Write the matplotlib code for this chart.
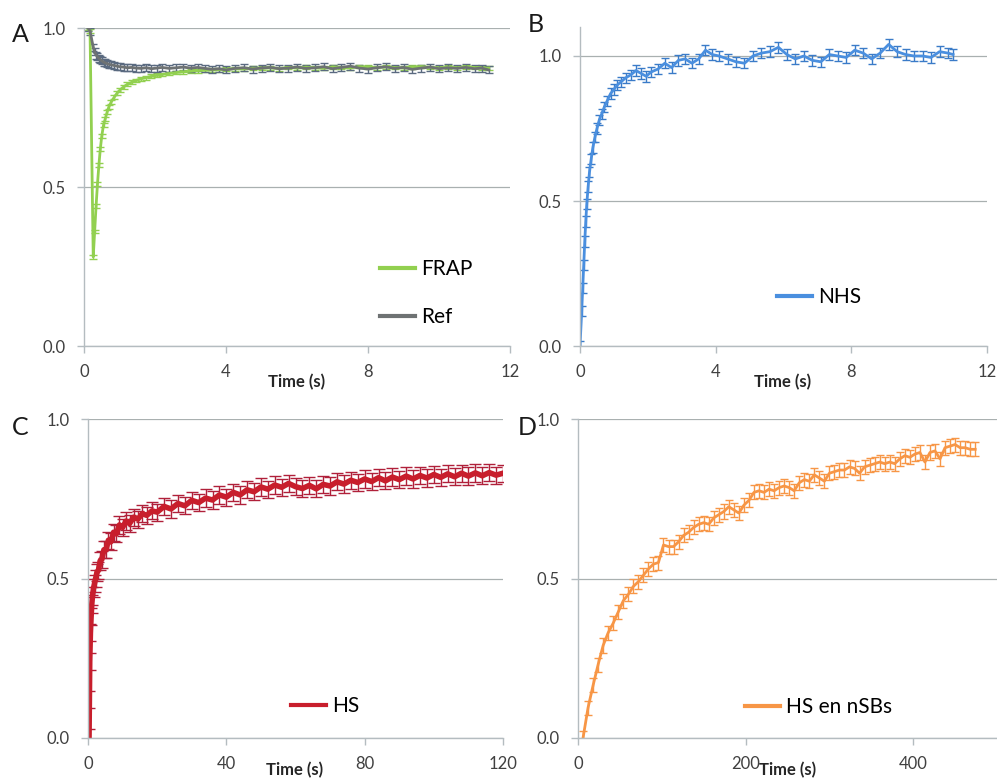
import matplotlib
matplotlib.use("Agg")
import matplotlib.pyplot as plt
from matplotlib.lines import Line2D

plt.rcParams['font.family'] = ['Lato', 'DejaVu Sans']

# ---- panel A: FRAP and reference curves (time in s)
time_a = [0.12, 0.17, 0.26, 0.30, 0.34, 0.38, 0.42, 0.46, 0.50, 0.55,
          0.60, 0.65, 0.70, 0.77, 0.85, 0.93, 1.02, 1.12, 1.22, 1.34,
          1.46, 1.60, 1.75, 1.90, 2.05, 2.20, 2.40, 2.60, 2.80, 3.00,
          3.20, 3.40, 3.60, 3.80, 4.00, 4.25, 4.50, 4.75, 5.00, 5.25,
          5.50, 5.75, 6.00, 6.25, 6.50, 6.75, 7.00, 7.25, 7.50, 7.75,
          8.00, 8.25, 8.50, 8.75, 9.00, 9.25, 9.50, 9.75, 10.00, 10.25,
          10.50, 10.75, 11.00, 11.20, 11.40]
frap = [1.00, 0.99, 0.28, 0.36, 0.44, 0.51, 0.57, 0.62, 0.66, 0.695,
        0.715, 0.735, 0.752, 0.768, 0.782, 0.795, 0.806, 0.815, 0.823, 0.829,
        0.835, 0.840, 0.844, 0.848, 0.851, 0.854, 0.857, 0.860, 0.862, 0.864,
        0.866, 0.867, 0.868, 0.869, 0.870, 0.872, 0.871, 0.874, 0.873, 0.875,
        0.872, 0.876, 0.874, 0.877, 0.875, 0.873, 0.878, 0.876, 0.874, 0.879,
        0.877, 0.875, 0.878, 0.876, 0.874, 0.877, 0.879, 0.876, 0.874, 0.877,
        0.875, 0.878, 0.876, 0.873, 0.874]
ref = [1.00, 0.99, 0.94, 0.925, 0.915, 0.91, 0.905, 0.90, 0.897, 0.893,
       0.89, 0.888, 0.886, 0.884, 0.882, 0.880, 0.878, 0.877, 0.875, 0.876,
       0.874, 0.873, 0.875, 0.872, 0.874, 0.876, 0.873, 0.875, 0.877, 0.874,
       0.876, 0.873, 0.870, 0.872, 0.868, 0.873, 0.875, 0.871, 0.874, 0.876,
       0.872, 0.874, 0.877, 0.873, 0.875, 0.878, 0.872, 0.876, 0.880, 0.874,
       0.871, 0.875, 0.878, 0.873, 0.876, 0.870, 0.874, 0.877, 0.872, 0.875,
       0.873, 0.876, 0.872, 0.874, 0.868]
frap_err = 0.006
ref_err = 0.011

# ---- panel B: NHS
time_b = [0.0, 0.05, 0.08, 0.11, 0.14, 0.17, 0.20, 0.24, 0.28, 0.33,
          0.38, 0.44, 0.50, 0.57, 0.64, 0.72, 0.80, 0.90, 1.00, 1.10,
          1.20, 1.35, 1.50, 1.65, 1.80, 1.95, 2.10, 2.30, 2.50, 2.70,
          2.90, 3.10, 3.30, 3.50, 3.70, 3.90, 4.10, 4.35, 4.60, 4.85,
          5.10, 5.35, 5.60, 5.85, 6.10, 6.35, 6.60, 6.85, 7.10, 7.35,
          7.60, 7.85, 8.10, 8.35, 8.60, 8.85, 9.10, 9.35, 9.60, 9.85,
          10.10, 10.35, 10.60, 10.85, 11.00]
nhs = [0.0, 0.12, 0.20, 0.28, 0.36, 0.43, 0.49, 0.55, 0.60, 0.645,
       0.685, 0.72, 0.75, 0.78, 0.80, 0.825, 0.845, 0.87, 0.885, 0.90,
       0.91, 0.925, 0.935, 0.95, 0.94, 0.93, 0.945, 0.955, 0.975, 0.96,
       0.985, 0.99, 0.975, 0.99, 1.02, 1.005, 1.00, 0.99, 0.98, 0.975,
       1.00, 1.01, 1.015, 1.03, 1.005, 0.99, 1.00, 0.985, 0.98, 1.005,
       1.00, 0.995, 1.02, 1.01, 0.99, 1.01, 1.04, 1.015, 1.005, 1.00,
       1.00, 0.995, 1.015, 1.01, 1.005]
nhs_err = 0.018

# ---- panel C: HS
time_c = [0.3, 0.4, 0.5, 0.7, 0.9, 1.1, 1.3, 1.6, 1.9, 2.2,
          2.6, 3.0, 3.5, 4.0, 4.6, 5.2, 5.9, 6.6, 7.4, 8.2,
          9.1, 10.0, 11.0, 12.0, 13.2, 14.4, 15.7, 17.0, 18.5, 20.0,
          22, 24, 26, 28, 30, 32, 34, 36, 38, 40,
          42, 44, 46, 48, 50, 52, 54, 56, 58, 60,
          62, 64, 66, 68, 70, 72, 74, 76, 78, 80,
          82, 84, 86, 88, 90, 92, 94, 96, 98, 100,
          102, 104, 106, 108, 110, 112, 114, 116, 118, 120]
hs = [0.00, 0.12, 0.24, 0.33, 0.38, 0.42, 0.445, 0.47, 0.485, 0.50,
      0.52, 0.525, 0.555, 0.56, 0.59, 0.59, 0.62, 0.615, 0.645, 0.64,
      0.668, 0.66, 0.68, 0.672, 0.692, 0.686, 0.703, 0.698, 0.712, 0.708,
      0.726, 0.718, 0.735, 0.728, 0.745, 0.738, 0.752, 0.746, 0.762, 0.755,
      0.770, 0.762, 0.778, 0.772, 0.787, 0.780, 0.793, 0.786, 0.798, 0.788,
      0.782, 0.792, 0.781, 0.795, 0.790, 0.803, 0.796, 0.808, 0.801, 0.812,
      0.804, 0.816, 0.806, 0.818, 0.810, 0.821, 0.812, 0.823, 0.815, 0.826,
      0.817, 0.828, 0.819, 0.830, 0.821, 0.831, 0.822, 0.832, 0.824, 0.830]
hs_err = 0.027

# ---- panel D: HS en nSBs
time_d = [6, 12, 18, 24, 30, 36, 42, 48, 54, 60,
          66, 72, 78, 84, 90, 96, 102, 108, 114, 120,
          126, 132, 138, 144, 150, 156, 162, 168, 174, 180,
          186, 192, 198, 204, 210, 216, 222, 228, 234, 240,
          246, 252, 258, 264, 270, 276, 282, 288, 294, 300,
          306, 312, 318, 324, 330, 336, 342, 348, 354, 360,
          366, 372, 378, 384, 390, 396, 402, 408, 414, 420,
          426, 432, 438, 444, 450, 456, 462, 468, 474]
hs_nsb = [0.00, 0.095, 0.165, 0.23, 0.29, 0.33, 0.36, 0.395, 0.43, 0.45,
          0.475, 0.49, 0.51, 0.53, 0.545, 0.55, 0.605, 0.60, 0.60, 0.615,
          0.635, 0.645, 0.66, 0.67, 0.675, 0.67, 0.69, 0.70, 0.71, 0.725,
          0.715, 0.705, 0.73, 0.745, 0.77, 0.775, 0.77, 0.78, 0.775, 0.785,
          0.79, 0.785, 0.775, 0.80, 0.81, 0.805, 0.825, 0.815, 0.805, 0.83,
          0.835, 0.84, 0.84, 0.85, 0.845, 0.83, 0.85, 0.855, 0.86, 0.865,
          0.86, 0.865, 0.86, 0.875, 0.885, 0.88, 0.89, 0.895, 0.865, 0.895,
          0.90, 0.875, 0.91, 0.915, 0.92, 0.91, 0.91, 0.905, 0.905]
hs_nsb_err = 0.022

W, H = 997, 778
fig = plt.figure(figsize=(W / 100, H / 100), dpi=100)


def box(x0, y0, x1, y1):
    # pixel box (left, top, right, bottom) -> figure fraction rect
    return [x0 / W, 1 - y1 / H, (x1 - x0) / W, (y1 - y0) / H]


def style(ax, xmax, xticks, ymax):
    ax.set_xlim(0, xmax)
    ax.set_ylim(0, ymax)
    ax.set_xticks(xticks)
    ax.set_yticks([0, 0.5, 1.0])
    ax.set_yticklabels(["0.0", "0.5", "1.0"])
    for s in ["top", "right"]:
        ax.spines[s].set_visible(False)
    for s in ["left", "bottom"]:
        ax.spines[s].set_color("#b4bcc0")
        ax.spines[s].set_linewidth(1)
    ax.grid(axis="y", color="#a9b0b0", linewidth=0.9)
    ax.set_axisbelow(True)
    ax.tick_params(direction="out", length=5, width=1, color="#b4bcc0",
                   labelsize=12, labelcolor="#404040", pad=8)
    ax.patch.set_alpha(0)


def curve(ax, t, y, err, color, ecolor=None, lw=2, cap=3):
    ax.errorbar(t, y, yerr=err, color=color, lw=lw,
                ecolor=ecolor or color, elinewidth=1, capsize=cap, capthick=1)


def legend(ax, items, px, py, spacing=1.2):
    handles = [Line2D([], [], color=c, lw=3) for _, c in items]
    ax.legend(handles, [n for n, _ in items], loc="upper left",
              bbox_to_anchor=(px / W, 1 - py / H), bbox_transform=fig.transFigure,
              frameon=False, fontsize=15, handlelength=1.7, handletextpad=0.25,
              labelspacing=spacing, borderpad=0, borderaxespad=0)


green, grey, blue, red, orange = "#92d050", "#6e7273", "#4a8fdf", "#c81e2c", "#f79646"

ax_a = fig.add_axes(box(84, 28, 510, 346))
style(ax_a, 12, [0, 4, 8, 12], 1.0)
curve(ax_a, time_a, frap, frap_err, green)
curve(ax_a, time_a, ref, ref_err, grey, ecolor="#5a6a80")
legend(ax_a, [("FRAP", green), ("Ref", grey)], 380, 259, spacing=1.35)

ax_b = fig.add_axes(box(580, 27, 987, 346))
style(ax_b, 12, [0, 4, 8, 12], 1.1)
curve(ax_b, time_b, nhs, nhs_err, blue, ecolor="#3a7bc8")
legend(ax_b, [("NHS", blue)], 777, 287)

ax_c = fig.add_axes(box(88, 419, 503, 738))
style(ax_c, 120, [0, 40, 80, 120], 1.0)
curve(ax_c, time_c, hs, hs_err, red, ecolor="#b0203a", lw=4, cap=4)
legend(ax_c, [("HS", red)], 291, 696)

ax_d = fig.add_axes(box(578, 419, 997, 738))
style(ax_d, 500, [0, 200, 400], 1.0)
curve(ax_d, time_d, hs_nsb, hs_nsb_err, orange)
legend(ax_d, [("HS en nSBs", orange)], 745, 697)

# x axis titles sit off-centre, as in the original layout
for x, y in [(297, 382), (783, 382), (295, 770), (788, 770)]:
    fig.text(x / W, 1 - y / H, "Time (s)", fontsize=12, fontweight="bold",
             color="#262626", ha="center", va="center")

for letter, x, y in [("A", 20, 34), ("B", 536, 25), ("C", 20, 427), ("D", 527, 427)]:
    fig.text(x / W, 1 - y / H, letter, fontsize=18, color="#1a1a1a",
             ha="center", va="center")

fig.savefig("out.png", dpi=100)
